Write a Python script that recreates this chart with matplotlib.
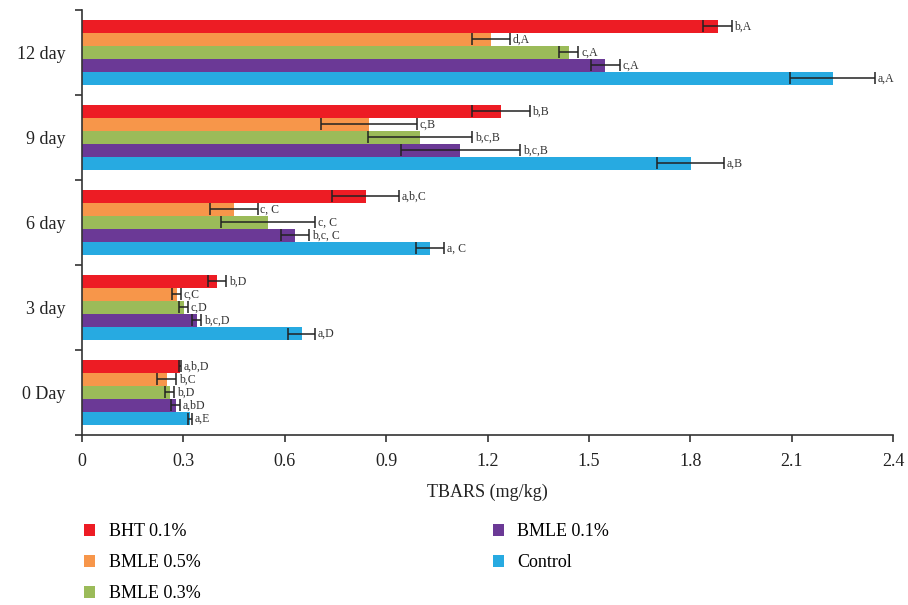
import numpy as np
import matplotlib
matplotlib.use("Agg")
import matplotlib.pyplot as plt

# Storage days (bottom to top) and treatments (top to bottom inside each group)
days = ["0 Day", "3 day", "6 day", "9 day", "12 day"]
treatments = ["BHT 0.1%", "BMLE 0.5%", "BMLE 0.3%", "BMLE 0.1%", "Control"]
colors = ["#ED1C24", "#F7964A", "#9BBB59", "#6B3996", "#27AAE1"]

# TBARS means (mg/kg), one list per treatment, ordered as in `days`
bht_01 = [0.290, 0.399, 0.840, 1.240, 1.881]
bmle_05 = [0.251, 0.280, 0.450, 0.849, 1.210]
bmle_03 = [0.260, 0.301, 0.550, 1.000, 1.441]
bmle_01 = [0.277, 0.339, 0.630, 1.120, 1.549]
control = [0.320, 0.650, 1.030, 1.801, 2.221]

# Standard deviations
bht_01_sd = [0.004, 0.027, 0.099, 0.085, 0.042]
bmle_05_sd = [0.028, 0.013, 0.070, 0.141, 0.057]
bmle_03_sd = [0.013, 0.013, 0.140, 0.155, 0.028]
bmle_01_sd = [0.013, 0.013, 0.042, 0.177, 0.042]
control_sd = [0.005, 0.040, 0.042, 0.100, 0.126]

# Significance letters
bht_01_lab = ["a,b,D", "b,D", "a,b,C", "b,B", "b,A"]
bmle_05_lab = ["b,C", "c,C", "c, C", "c,B", "d,A"]
bmle_03_lab = ["b,D", "c,D", "c, C", "b,c,B", "c,A"]
bmle_01_lab = ["a,bD", "b,c,D", "b,c, C", "b,c,B", "c,A"]
control_lab = ["a,E", "a,D", "a, C", "a,B", "a,A"]

x_ticks = [0, 0.3, 0.6, 0.9, 1.2, 1.5, 1.8, 2.1, 2.4]
x_tick_labels = ["0", "0.3", "0.6", "0.9", "1.2", "1.5", "1.8", "2.1", "2.4"]

means = [bht_01, bmle_05, bmle_03, bmle_01, control]
sds = [bht_01_sd, bmle_05_sd, bmle_03_sd, bmle_01_sd, control_sd]
labels = [bht_01_lab, bmle_05_lab, bmle_03_lab, bmle_01_lab, control_lab]

plt.rcParams["font.family"] = ["Liberation Serif", "DejaVu Serif"]

fig = plt.figure(figsize=(9.08, 6.05), dpi=100)
ax = fig.add_axes([0.0903, 0.281, 0.8932, 0.7025])

step = 0.153
bar_h = 0.145
centers = np.arange(len(days)) + 0.5
handles = []
for i, (vals, err, labs, col, name) in enumerate(zip(means, sds, labels, colors, treatments)):
    offs = (2 - i) * step
    y = centers + offs
    b = ax.barh(y, vals, height=bar_h, color=col, label=name, zorder=2)
    handles.append(b)
    ax.errorbar(vals, y, xerr=err, fmt="none", ecolor="#222222",
                elinewidth=1.1, capsize=4.0, capthick=1.1, zorder=3)
    for v, e, yy, t in zip(vals, err, y, labs):
        ax.text(v + e + 0.008, yy, t, va="center", ha="left",
                fontsize=8.5, color="#333333")

ax.set_xlim(0, 2.4)
ax.set_ylim(0, len(days))
ax.set_xticks(x_ticks)
ax.set_xticklabels(x_tick_labels, fontsize=13, color="#222222")
ax.set_yticks(centers)
ax.set_yticklabels(days, fontsize=13, color="#222222")
ax.set_yticks(np.arange(len(days) + 1), minor=True)
ax.tick_params(axis="y", which="major", length=0, pad=12)
ax.tick_params(axis="y", which="minor", length=5, width=1.2, color="#333333")
ax.tick_params(axis="x", which="major", length=5, width=1.2, color="#333333", pad=8)

for s in ["top", "right"]:
    ax.spines[s].set_visible(False)
for s in ["left", "bottom"]:
    ax.spines[s].set_linewidth(1.2)
    ax.spines[s].set_color("#333333")

ax.set_xlabel("TBARS (mg/kg)", fontsize=13, color="#222222", labelpad=10)

leg_kw = dict(frameon=False, fontsize=13, handlelength=0.6, handleheight=0.6,
              handletextpad=0.75, labelspacing=0.78, borderaxespad=0, borderpad=0)
fig.legend(handles[:3], treatments[:3], loc="upper left",
           bbox_to_anchor=(0.093, 0.135), **leg_kw)
fig.legend(handles[3:], treatments[3:], loc="upper left",
           bbox_to_anchor=(0.543, 0.135), **leg_kw)

fig.savefig("out.png", dpi=100)
